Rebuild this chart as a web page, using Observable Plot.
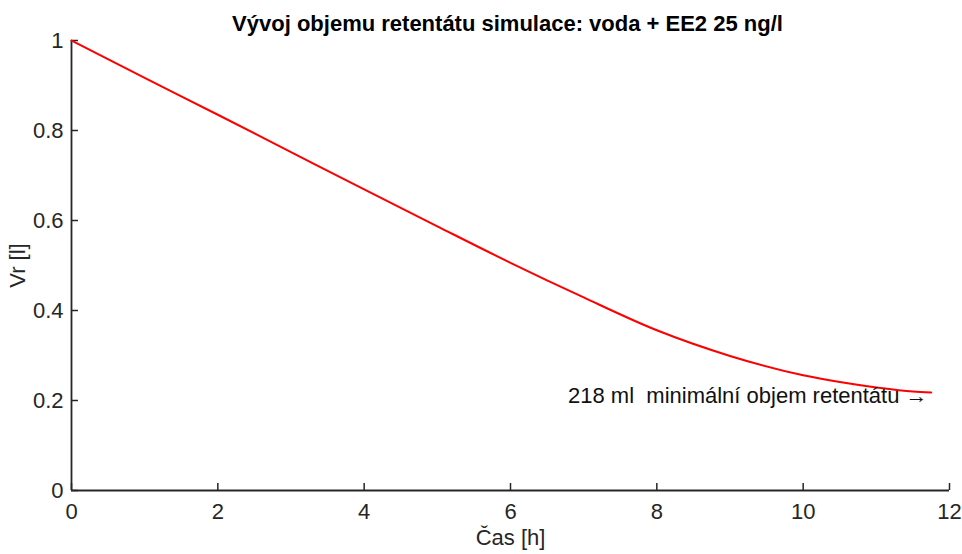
<!DOCTYPE html>
<html>
<head>
<meta charset="utf-8">
<script src="https://cdn.jsdelivr.net/npm/d3@7"></script>
<script src="https://cdn.jsdelivr.net/npm/@observablehq/plot@0.6"></script>
<style>
  html, body { margin: 0; padding: 0; background: #fff; }
  svg { font-family: "Liberation Sans", Arial, sans-serif; }
</style>
</head>
<body>
<div id="chart"></div>
<script>
const title = "Vývoj objemu retentátu simulace: voda + EE2 25 ng/l";
const xLabel = "Čas [h]";
const yLabel = "Vr [l]";
const annotation = "218 ml  minimální objem retentátu →";
const annotationPos = [11.7, 0.211];

const time = [0, 1, 2, 3, 4, 5, 6, 7, 8, 9, 10, 10.5, 11, 11.5, 11.75];
const volume = [1.0, 0.917, 0.835, 0.752, 0.669, 0.587, 0.506, 0.429, 0.356, 0.299, 0.256, 0.241, 0.229, 0.220, 0.218];

const xTicks = [0, 2, 4, 6, 8, 10, 12];
const yTicks = [0, 0.2, 0.4, 0.6, 0.8, 1];

const data = time.map((t, i) => ({t, v: volume[i]}));
const axisColor = "#262626";
const fs = 22;

const chart = Plot.plot({
  width: 962,
  height: 554,
  marginLeft: 71,
  marginRight: 13,
  marginTop: 40,
  marginBottom: 64,
  style: {fontFamily: '"Liberation Sans", Arial, sans-serif', fontSize: fs + "px", color: axisColor, background: "#fff"},
  x: {domain: [0, 12]},
  y: {domain: [0, 1]},
  marks: [
    Plot.axisX({ticks: xTicks, tickSize: -7, tickPadding: 20, tickFormat: d => String(d),
      label: xLabel, labelAnchor: "center", labelArrow: "none", labelOffset: 54,
      stroke: axisColor, strokeWidth: 1.5, fill: axisColor, fontSize: fs}),
    Plot.axisY({ticks: yTicks, tickSize: -7, tickPadding: 15, tickFormat: d => String(d),
      label: yLabel, labelAnchor: "center", labelArrow: "none", labelOffset: 62,
      stroke: axisColor, strokeWidth: 1.5, fill: axisColor, fontSize: fs}),
    Plot.ruleY([0], {stroke: axisColor, strokeWidth: 1.8}),
    Plot.ruleX([0], {stroke: axisColor, strokeWidth: 1.8}),
    Plot.line(data, {x: "t", y: "v", stroke: "#ff0000", strokeWidth: 2, curve: "monotone-x"}),
    Plot.text([annotation], {x: () => annotationPos[0], y: () => annotationPos[1], text: d => d,
      textAnchor: "end", lineAnchor: "middle", fill: "#111", fontSize: fs}),
    Plot.text([title], {frameAnchor: "top", dy: -17, dx: -3, lineAnchor: "middle", text: d => d, fontWeight: "bold", fontSize: fs, fill: "#000"})
  ]
});
document.getElementById("chart").appendChild(chart);
</script>
</body>
</html>
